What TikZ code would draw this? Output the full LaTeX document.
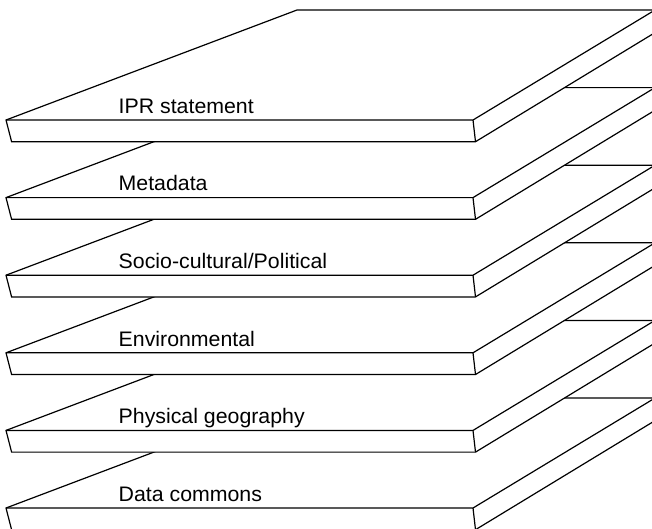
\documentclass[tikz,border=0pt]{standalone}
\usepackage{fontspec}
\setmainfont{Liberation Sans}
\begin{document}
\begin{tikzpicture}[x=1pt,y=-1pt,
  slabedge/.style={draw=black,line width=1.2pt,line join=miter,fill=white},
  slabline/.style={draw=black,line width=1.2pt,line join=miter},
  layerlabel/.style={anchor=base west,inner sep=0pt,xscale=1.015,font=\fontsize{21}{25}\selectfont}]
\useasboundingbox (0,0) rectangle (652,528);
\begin{scope}
\clip (0,0) rectangle (652,528);
% slabs from the bottom of the stack to the top, each one hiding the back of the one below
\foreach \i in {5,4,3,2,1,0}{
  \begin{scope}[shift={(0,77.6*\i)}]
    % outline of the slab: front face, top face and right side
    \path[slabedge] (11.6,141.7) -- (6,120) -- (297,10) -- (655,10)
      -- (656,32) -- (475.5,141.7) -- cycle;
    % inner edges: front top edge and the front right corner
    \path[slabline] (6,120) -- (473,120) -- (655,10);
    \path[slabline] (473,120) -- (475.5,141.7);
  \end{scope}
}
\end{scope}
\node[layerlabel] (ipr)  at (118.5,113.2) {IPR statement};
\node[layerlabel] (meta) at (118.5,190.8) {Metadata};
\node[layerlabel] (soc)  at (118.5,268.4) {Socio-cultural/Political};
\node[layerlabel] (env)  at (118.5,346.0) {Environmental};
\node[layerlabel] (phys) at (118.5,423.6) {Physical geography};
\node[layerlabel] (dc)   at (118.5,501.2) {Data commons};
\end{tikzpicture}
\end{document}
